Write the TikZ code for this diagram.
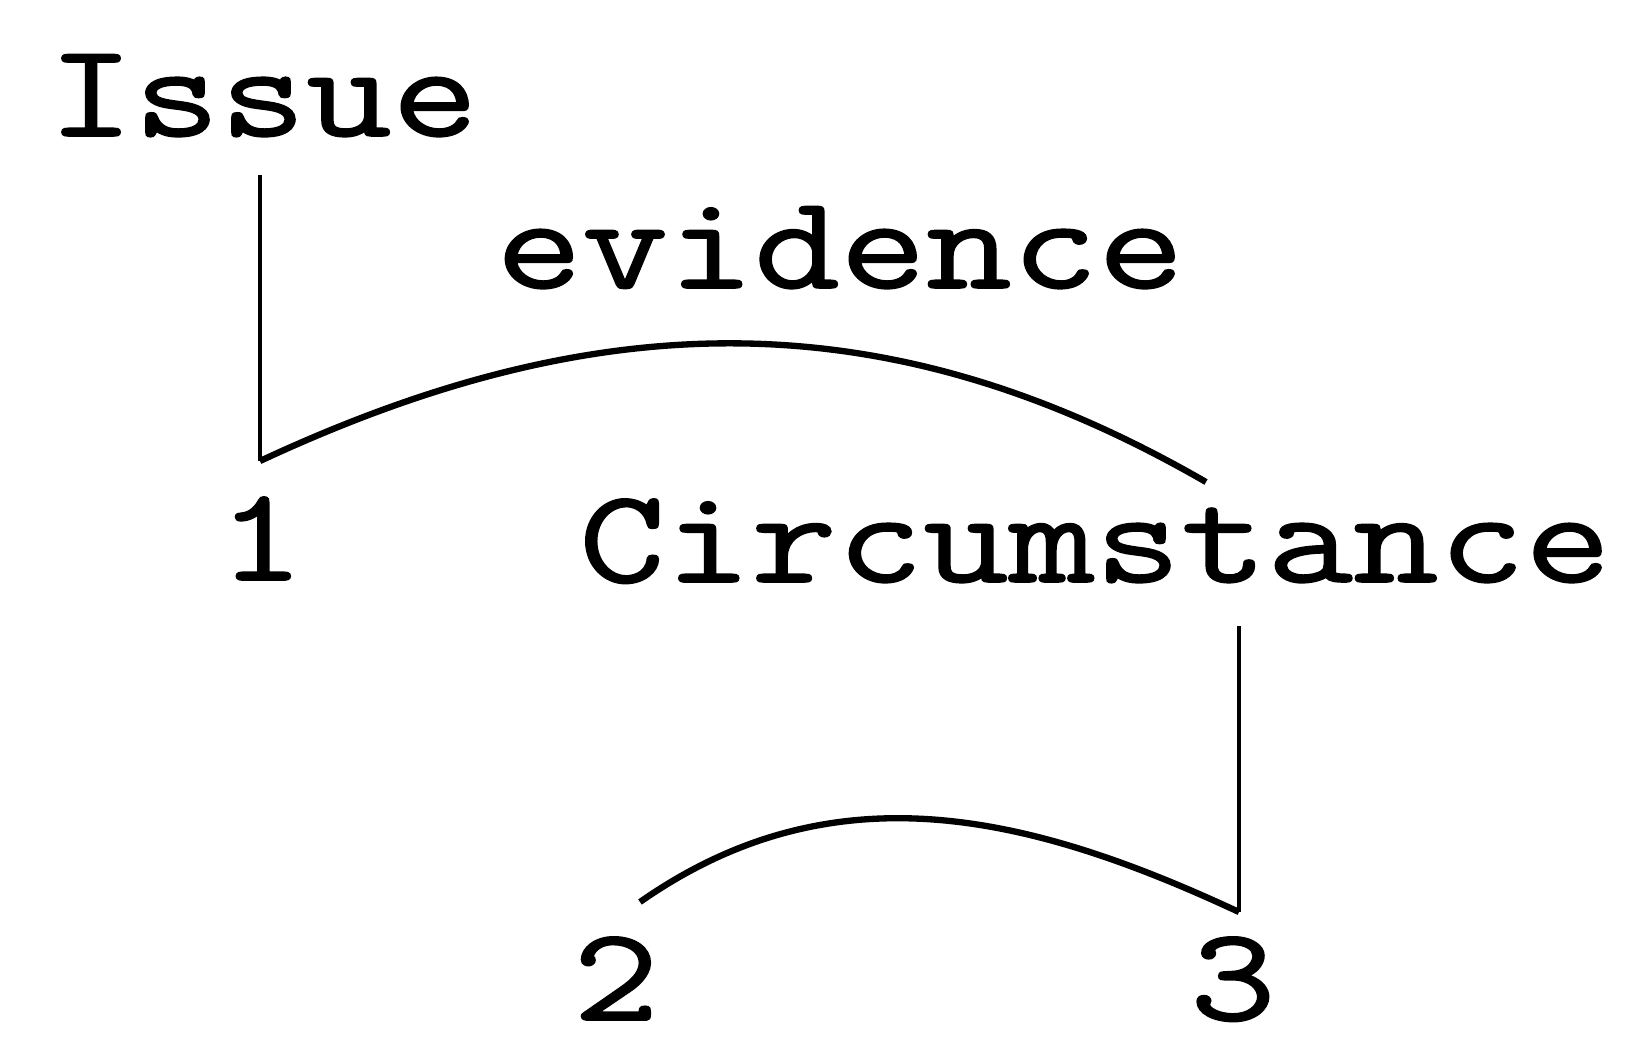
\documentclass[tikz,border=0pt]{standalone}
\usepackage{fontspec}
\usepackage{tikz}
\usetikzlibrary{positioning,calc}
\newfontfamily\rstfont[FakeStretch=1.25,FakeBold=1.2]{Latin Modern Mono}
\tikzset{
  lab/.style={font=\rstfont\fontsize{38}{40}\selectfont, inner sep=0pt, anchor=base},
  span/.style={black, line width=1.4pt},
  rel/.style={black, line width=1.8pt},
}

\begin{document}
\begin{tikzpicture}
\useasboundingbox (0,0) rectangle (16.44,-10.44);
\node[lab] (issue) at (2.63,-1.36) {Issue};
\node[lab] (evid)  at (8.40,-2.88) {evidence};
\node[lab] (one)   at (2.61,-5.80) {1};
\node[lab] (circ)  at (10.95,-5.82) {Circumstance};
\node[lab] (two)   at (6.16,-10.20) {2};
\node[lab] (three) at (12.33,-10.20) {3};
% ends of the spans
\coordinate (issuefoot) at (2.60,-4.61);
\coordinate (circtop)   at (12.06,-4.82);
\coordinate (circfoot)  at (12.39,-9.12);
\coordinate (twotop)    at (6.40,-9.02);
\draw[span] ([yshift=-3.7mm]issue.south -| issuefoot) -- (issuefoot);
\draw[rel] (issuefoot) to[out=25, in=150] (circtop);
\draw[span] ([yshift=-4.2mm]circ.south -| circfoot) -- (circfoot);
\draw[rel] (twotop) to[out=35, in=155] (circfoot);
\end{tikzpicture}
\end{document}
